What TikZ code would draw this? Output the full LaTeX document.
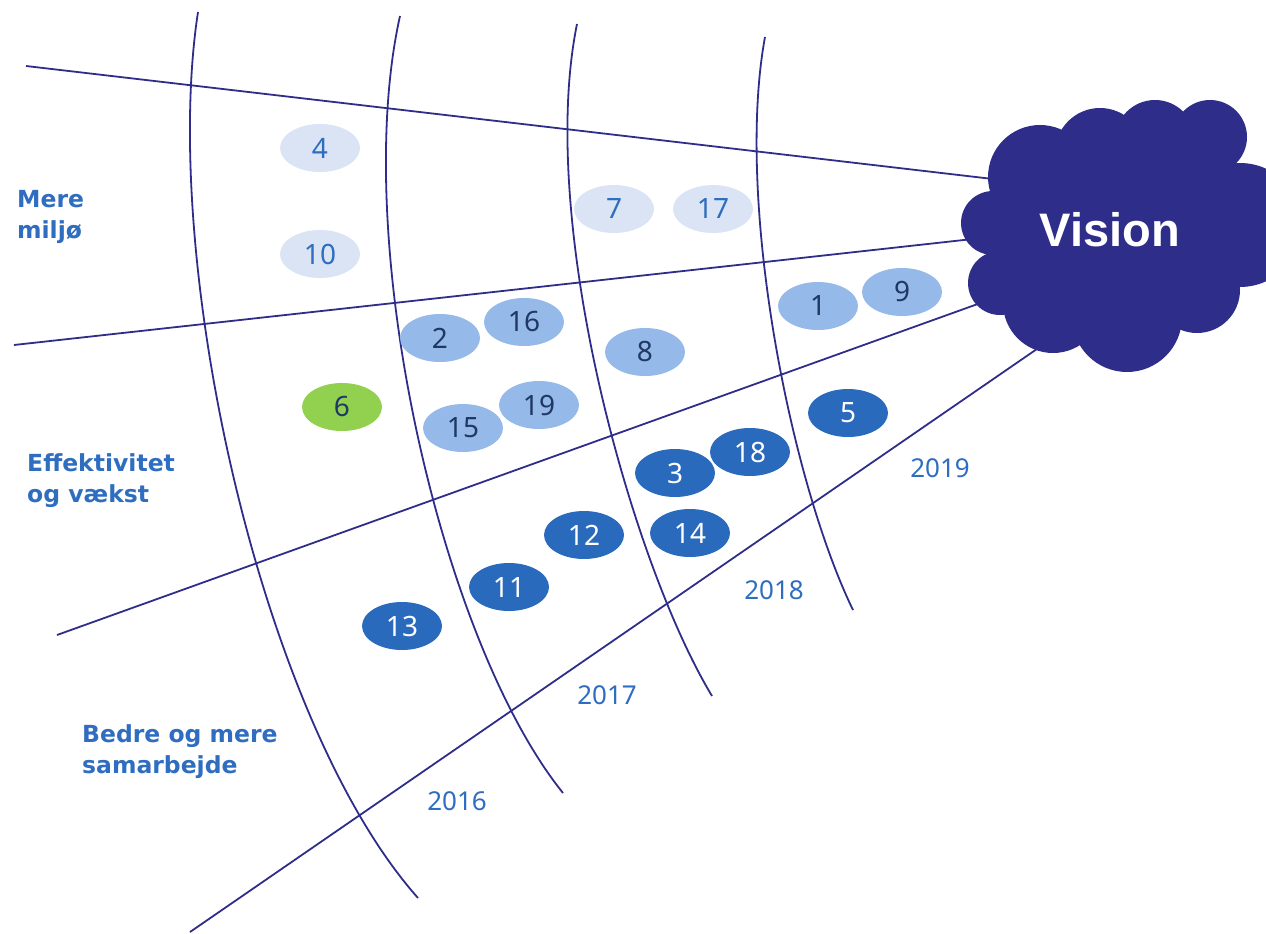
\documentclass[tikz,border=0pt]{standalone}
\usepackage{fontspec}
\setmainfont{Noto Sans}
\newfontfamily\catfont{DejaVu Sans}
\newfontfamily\visfont{Liberation Sans}
\usetikzlibrary{shapes.geometric}
\definecolor{navy}{RGB}{46,46,138}
\definecolor{midblue}{RGB}{46,109,192}
\definecolor{navytext}{RGB}{31,56,100}
\definecolor{lightfill}{RGB}{218,228,245}
\definecolor{medfill}{RGB}{149,185,232}
\definecolor{darkfill}{RGB}{42,106,189}
\definecolor{greenfill}{RGB}{146,208,80}
\begin{document}
\begin{tikzpicture}[x=1pt,y=-1pt,
  gridline/.style={draw=navy, line width=1.8pt},
  item/.style={ellipse, minimum width=80pt, minimum height=48pt, inner sep=0pt,
    font=\fontsize{28}{28}\selectfont},
  lightitem/.style={item, fill=lightfill, text=midblue},
  meditem/.style={item, fill=medfill, text=navytext},
  darkitem/.style={item, fill=darkfill, text=white},
  greenitem/.style={item, fill=greenfill, text=navytext},
  cat/.style={anchor=base west, inner sep=0pt, text=midblue,
    font=\catfont\bfseries\fontsize{23.5}{23.5}\selectfont},
  year/.style={text=midblue, inner sep=0pt, font=\fontsize{26}{26}\selectfont},
  cloudpart/.style={fill=navy, draw=none}
]
\useasboundingbox (0,0) rectangle (1266,934);

% radial lines
\coordinate (l1a) at (26,66);   \coordinate (l1b) at (1010,181);
\coordinate (l2a) at (14,345);  \coordinate (l2b) at (1000,236);
\coordinate (l3a) at (57,635);  \coordinate (l3b) at (1000,296);
\coordinate (l4a) at (190,932); \coordinate (l4b) at (1050,340);
\draw[gridline] (l1a) -- (l1b);
\draw[gridline] (l2a) -- (l2b);
\draw[gridline] (l3a) -- (l3b);
\draw[gridline] (l4a) -- (l4b);

% year arcs
\coordinate (a1s) at (198,12); \coordinate (a1e) at (418,898);
\coordinate (a2s) at (400,16); \coordinate (a2e) at (563,793);
\coordinate (a3s) at (577,24); \coordinate (a3e) at (712,696);
\coordinate (a4s) at (765,37); \coordinate (a4e) at (853,610);
\draw[gridline] (a1s) .. controls (160,260) and (260,720) .. (a1e);
\draw[gridline] (a2s) .. controls (350,240) and (440,640) .. (a2e);
\draw[gridline] (a3s) .. controls (537,220) and (630,560) .. (a3e);
\draw[gridline] (a4s) .. controls (735,200) and (790,480) .. (a4e);

% cloud
\fill[cloudpart] (1120,235) ellipse [x radius=120, y radius=95];
\fill[cloudpart] (1040,177) circle [radius=52];
\fill[cloudpart] (1100,153) circle [radius=45];
\fill[cloudpart] (1155,140) circle [radius=40];
\fill[cloudpart] (1210,137) circle [radius=37];
\fill[cloudpart] (1240,225) circle [radius=62];
\fill[cloudpart] (1197,290) circle [radius=43];
\fill[cloudpart] (1127,317) circle [radius=55];
\fill[cloudpart] (1053,303) circle [radius=50];
\fill[cloudpart] (1000,283) circle [radius=32];
\fill[cloudpart] (993,223) circle [radius=32];
\node[text=white, font=\visfont\bfseries\fontsize{47}{47}\selectfont] (vision) at (1110,230) {Vision};

% category labels
\node[cat] (c1a) at (17,207) {Mere};
\node[cat] (c1b) at (17,238) {miljø};
\node[cat] (c2a) at (27,471) {Effektivitet};
\node[cat] (c2b) at (27,502) {og vækst};
\node[cat] (c3a) at (82,742) {Bedre og mere};
\node[cat] (c3b) at (82,773) {samarbejde};

% years
\node[year] (y16) at (457,801) {2016};
\node[year] (y17) at (607,695) {2017};
\node[year] (y18) at (774,590) {2018};
\node[year] (y19) at (940,468) {2019};

% items
\node[lightitem] (n4) at (320,148) {4};
\node[lightitem] (n10) at (320,254) {10};
\node[lightitem] (n7) at (614,209) {7};
\node[lightitem] (n17) at (713,209) {17};

\node[meditem] (n1) at (818,306) {1};
\node[meditem] (n9) at (902,292) {9};
\node[meditem] (n2) at (440,338) {2};
\node[meditem] (n16) at (524,322) {16};
\node[meditem] (n8) at (645,352) {8};
\node[meditem] (n15) at (463,428) {15};
\node[meditem] (n19) at (539,405) {19};

\node[greenitem] (n6) at (342,407) {6};

\node[darkitem] (n5) at (848,413) {5};
\node[darkitem] (n18) at (750,452) {18};
\node[darkitem] (n3) at (675,473) {3};
\node[darkitem] (n14) at (690,533) {14};
\node[darkitem] (n12) at (584,535) {12};
\node[darkitem] (n11) at (509,587) {11};
\node[darkitem] (n13) at (402,626) {13};
\end{tikzpicture}
\end{document}
